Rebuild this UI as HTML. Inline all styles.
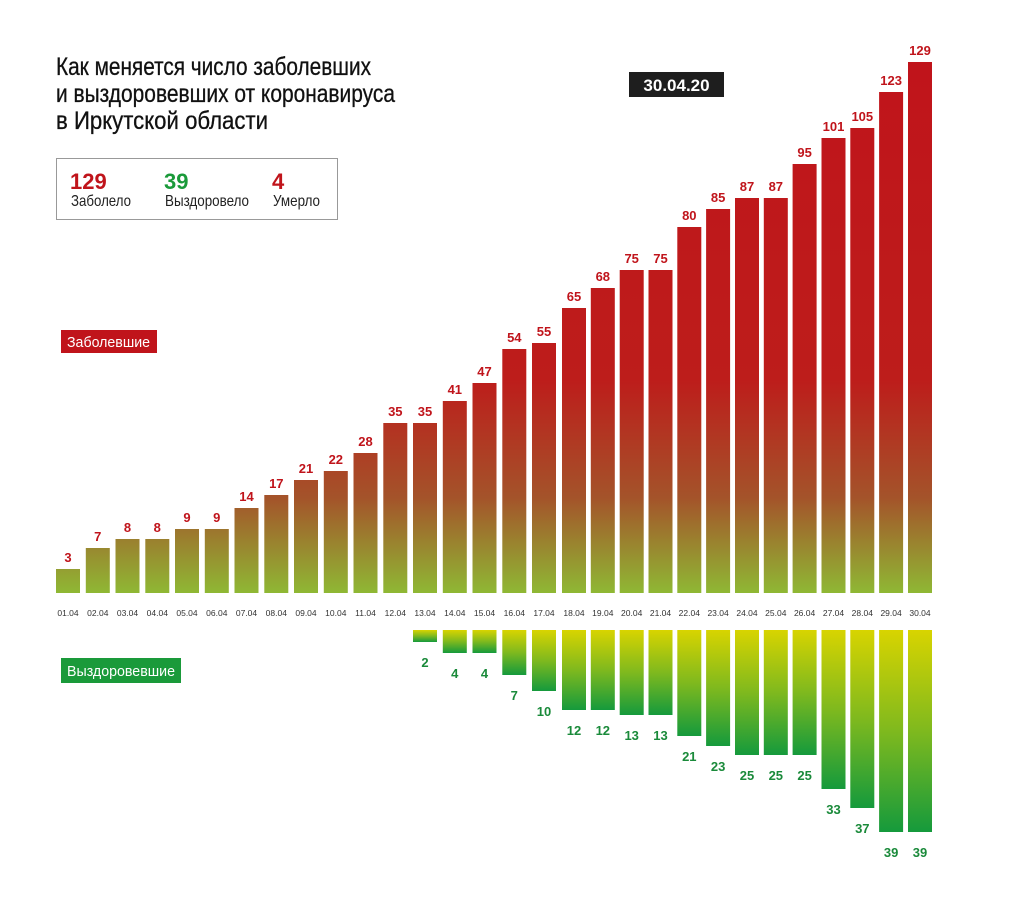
<!DOCTYPE html>
<html><head><meta charset="utf-8"><style>
html,body{margin:0;padding:0;background:#fff;}
svg{display:block;}
.t{font-family:"Liberation Sans Narrow","Liberation Sans",sans-serif;}
.b{font-family:"Liberation Sans",sans-serif;font-weight:bold;}
</style></head><body>
<svg width="1024" height="898" xmlns="http://www.w3.org/2000/svg">
<defs>
<linearGradient id="rg" gradientUnits="userSpaceOnUse" x1="0" y1="62" x2="0" y2="593">
<stop offset="0" stop-color="#c0141b"/><stop offset="0.6" stop-color="#bd1d1b"/><stop offset="0.82" stop-color="#a4532a"/><stop offset="1" stop-color="#8fb834"/>
</linearGradient>
<linearGradient id="gg" x1="0" y1="0" x2="0" y2="1">
<stop offset="0" stop-color="#d8d400"/><stop offset="0.5" stop-color="#7fb91e"/><stop offset="1" stop-color="#159a3c"/>
</linearGradient>
</defs>
<g class="t" font-size="25" fill="#111" stroke="#111" stroke-width="0.3">
<text x="56" y="75" textLength="315" lengthAdjust="spacingAndGlyphs">Как меняется число заболевших</text>
<text x="56" y="102" textLength="339" lengthAdjust="spacingAndGlyphs">и выздоровевших от коронавируса</text>
<text x="56" y="129" textLength="212" lengthAdjust="spacingAndGlyphs">в Иркутской области</text>
</g>
<rect x="56.5" y="158.5" width="281" height="61" fill="#fff" stroke="#999"/>
<text class="b" x="70" y="189" font-size="22" fill="#c0141b">129</text>
<text class="b" x="164" y="189" font-size="22" fill="#1a9a3a">39</text>
<text class="b" x="272" y="189" font-size="22" fill="#c0141b">4</text>
<g class="t" font-size="16" fill="#222">
<text x="71" y="206" textLength="60" lengthAdjust="spacingAndGlyphs">Заболело</text>
<text x="165" y="206" textLength="84" lengthAdjust="spacingAndGlyphs">Выздоровело</text>
<text x="273" y="206" textLength="47" lengthAdjust="spacingAndGlyphs">Умерло</text>
</g>
<rect x="629" y="72" width="95" height="25" fill="#1e1e1e"/>
<text class="b" x="676.5" y="91" font-size="17" fill="#fff" text-anchor="middle">30.04.20</text>
<rect x="61" y="330" width="96" height="23" fill="#c0141b"/>
<text class="t" x="67" y="347" font-size="15" fill="#fff" textLength="83" lengthAdjust="spacingAndGlyphs">Заболевшие</text>
<rect x="61" y="658" width="120" height="25" fill="#1a9a3a"/>
<text class="t" x="67" y="676" font-size="15" fill="#fff" textLength="108" lengthAdjust="spacingAndGlyphs">Выздоровевшие</text>
<g id="bars"></g>
</svg>
<script>
var vals=[3,7,8,8,9,9,14,17,21,22,28,35,35,41,47,54,55,65,68,75,75,80,85,87,87,95,101,105,123,129];
var tops=[569,548,539,539,529,529,508,495,480,471,453,423,423,401,383,349,343,308,288,270,270,227,209,198,198,164,138,128,92,62];
var gv={12:2,13:4,14:4,15:7,16:10,17:12,18:12,19:13,20:13,21:21,22:23,23:25,24:25,25:25,26:33,27:37,28:39,29:39};
var gb={2:642,4:653,7:675,10:691,12:710,13:715,21:736,23:746,25:755,33:789,37:808,39:832};
var s='';
for(var i=0;i<30;i++){
 var x=i<17?56+i*29.75:562+(i-17)*28.83, c=x+12;
 s+='<rect x="'+x.toFixed(1)+'" y="'+tops[i]+'" width="24" height="'+(593-tops[i])+'" fill="url(#rg)"/>';
 s+='<text x="'+c.toFixed(1)+'" y="'+(tops[i]-7)+'" font-family="Liberation Sans,sans-serif" font-weight="bold" font-size="13" fill="#c0141b" text-anchor="middle">'+vals[i]+'</text>';
 var d=(i+1<10?'0':'')+(i+1)+'.04';
 s+='<text x="'+c.toFixed(1)+'" y="616" font-family="Liberation Sans,sans-serif" font-size="8.5" fill="#333" text-anchor="middle">'+d+'</text>';
 if(gv[i]!==undefined){var v=gv[i],b=gb[v];
  s+='<rect x="'+x.toFixed(1)+'" y="630" width="24" height="'+(b-630)+'" fill="url(#gg)"/>';
  s+='<text x="'+c.toFixed(1)+'" y="'+(b+25)+'" font-family="Liberation Sans,sans-serif" font-weight="bold" font-size="13" fill="#1a8a3a" text-anchor="middle">'+v+'</text>';}
}
document.getElementById('bars').innerHTML=s;
</script>
</body></html>
